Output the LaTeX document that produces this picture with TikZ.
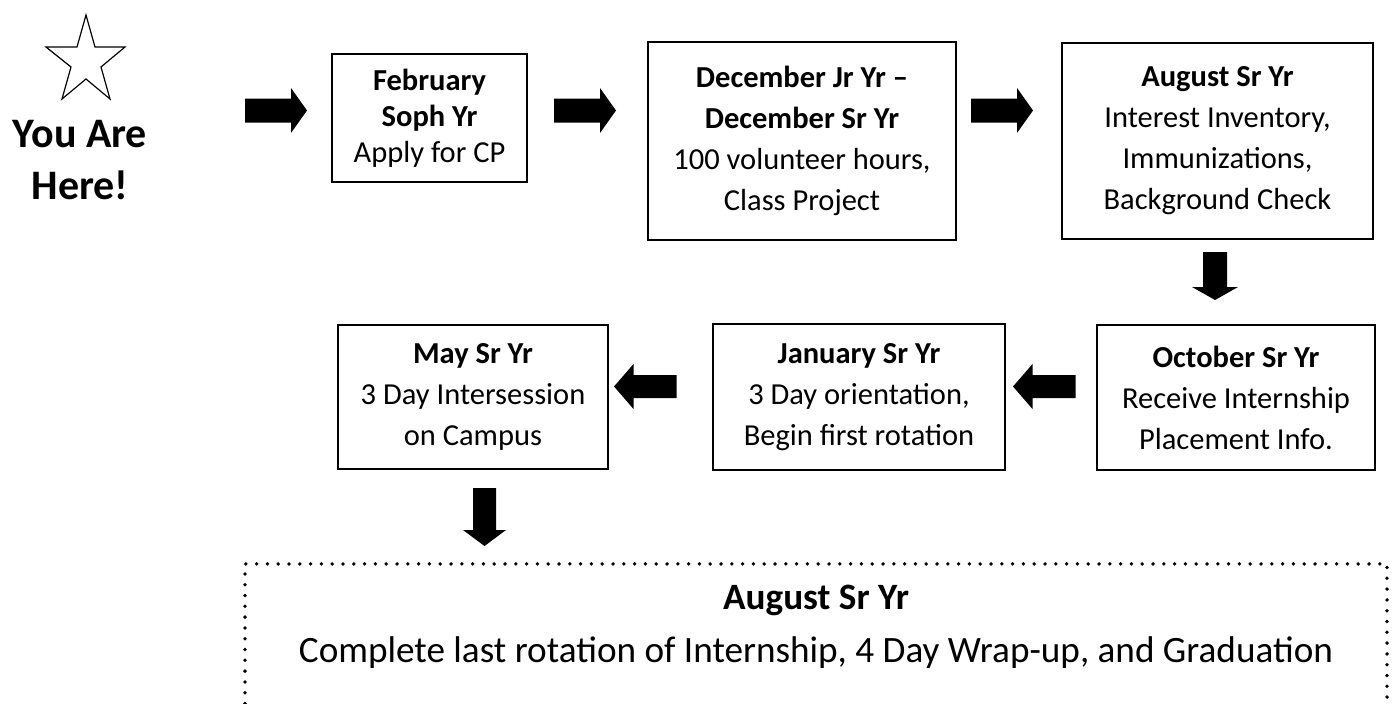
\documentclass[tikz,border=0pt]{standalone}
\usepackage{fontspec}
\setmainfont{Carlito}

\begin{document}
\begin{tikzpicture}[x=1pt,y=-1pt,
  stage/.style={draw=black, line width=1.6pt, align=center, inner sep=0pt,
    font=\fontsize{30.5}{41}\selectfont},
  dotframe/.style={draw=black, line width=3.8pt, line cap=round,
    dash pattern=on 0pt off 10.8pt, inner sep=0pt},
  % thick block arrows, drawn around their centre point
  pics/arrowright/.style={code={
    \fill (-31,-12) -- (15,-12) -- (15,-22.5) -- (31,0) -- (15,22.5)
      -- (15,12) -- (-31,12) -- cycle;}},
  pics/arrowleft/.style={code={
    \fill (31,-11.5) -- (-12,-11.5) -- (-12,-22.5) -- (-31.5,0) -- (-12,22.5)
      -- (-12,11.5) -- (31,11.5) -- cycle;}},
  pics/arrowdownshort/.style={code={
    \fill (-12,-24) -- (-12,11) -- (-23,11) -- (0,24) -- (23,11)
      -- (12,11) -- (12,-24) -- cycle;}},
  pics/arrowdownlong/.style={code={
    \fill (-11.5,-29) -- (-11.5,13) -- (-21.5,13) -- (0,29) -- (21.5,13)
      -- (11.5,13) -- (11.5,-29) -- cycle;}},
]
\useasboundingbox (0,0) rectangle (1392,704);

% star marker and caption
\draw[line width=1.2pt, line join=miter]
  (86,15) -- (95,47) -- (125,47) -- (101,67) -- (110,99) -- (86,79)
  -- (62,99) -- (71,67) -- (46,47) -- (77,47) -- cycle;
\node[align=center, inner sep=0pt, font=\fontsize{42}{52}\selectfont\bfseries]
  (here) at (80,160.5) {You Are\\Here!};

% timeline stages
\node[stage, minimum width=195pt, minimum height=128pt,
  font=\fontsize{30.5}{36}\selectfont] (b1) at (429.5,118)
  {\textbf{February}\\\textbf{Soph Yr}\\Apply for CP};
\node[stage, minimum width=308pt, minimum height=198pt] (b2) at (802,141)
  {\textbf{December Jr Yr \textendash}\\\textbf{December Sr Yr}\\100 volunteer hours,\\Class Project};
\node[stage, minimum width=311pt, minimum height=196pt] (b3) at (1217.5,141)
  {\textbf{August Sr Yr}\\Interest Inventory,\\Immunizations,\\Background Check};
\node[stage, minimum width=278pt, minimum height=145pt] (b4) at (1236,397.5)
  {\textbf{October Sr Yr}\\Receive Internship\\Placement Info.};
\node[stage, minimum width=292pt, minimum height=146pt] (b5) at (859,397)
  {\textbf{January Sr Yr}\\3 Day orientation,\\Begin first rotation};
\node[stage, minimum width=270pt, minimum height=144pt] (b6) at (473,397)
  {\textbf{May Sr Yr}\\3 Day Intersession\\on Campus};

% final stage in a dotted frame
\node[dotframe, minimum width=1142pt, minimum height=190pt, anchor=north]
  (b7) at (816,562) {};
\node[align=center, inner sep=0pt, anchor=north,
  font=\fontsize{37.2}{53}\selectfont] (b7text) at (816,584.5)
  {\textbf{August Sr Yr}\\Complete last rotation of Internship, 4 Day Wrap-up, and Graduation};

% block arrows between the stages
\pic (go1) at (276,110.5) {arrowright};
\pic (go2) at (585,110.5) {arrowright};
\pic (go3) at (1002,110.5) {arrowright};
\pic (go4) at (1215,276) {arrowdownshort};
\pic (go5) at (1044.5,386.5) {arrowleft};
\pic (go6) at (645.5,386.5) {arrowleft};
\pic (go7) at (484.5,517) {arrowdownlong};
\end{tikzpicture}
\end{document}
